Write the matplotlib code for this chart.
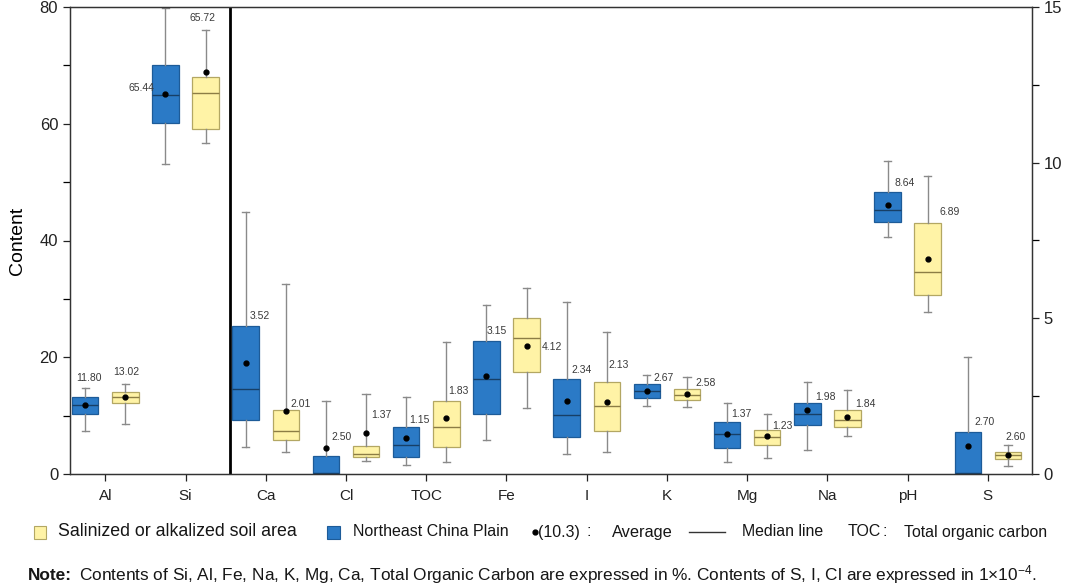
import matplotlib
matplotlib.use("Agg")
import matplotlib.pyplot as plt
from matplotlib.patches import Rectangle
from matplotlib.lines import Line2D
from matplotlib.ticker import MultipleLocator

plt.rcParams['font.family'] = ['Liberation Sans', 'DejaVu Sans']
plt.rcParams['mathtext.fontset'] = 'custom'
plt.rcParams['mathtext.rm'] = 'Liberation Sans'
plt.rcParams['mathtext.it'] = 'Liberation Sans:italic'
plt.rcParams['mathtext.bf'] = 'Liberation Sans:bold'

# ---------------- data ----------------
categories = ["Al", "Si", "Ca", "Cl", "TOC", "Fe", "I", "K", "Mg", "Na", "pH", "S"]
left_axis_cats = ["Al", "Si"]   # plotted against the left (0-80) axis

# Northeast China Plain (blue): whislo, q1, median, q3, whishi, mean
ne_whislo = [7.3, 53.1, 0.87, 0.00, 0.29, 1.09, 0.64, 2.19, 0.39, 0.77, 7.60, 0.00]
ne_q1     = [10.2, 60.1, 1.72, 0.00, 0.56, 1.94, 1.19, 2.43, 0.84, 1.57, 8.08, 0.00]
ne_med    = [11.9, 65.0, 2.73, 0.02, 0.93, 3.04, 1.88, 2.67, 1.27, 1.92, 8.48, 0.02]
ne_q3     = [13.2, 70.1, 4.74, 0.58, 1.51, 4.27, 3.04, 2.88, 1.67, 2.27, 9.07, 1.34]
ne_whishi = [14.7, 79.9, 8.41, 2.35, 2.48, 5.44, 5.54, 3.18, 2.27, 2.97, 10.04, 3.76]
ne_mean   = [11.9, 65.1, 3.55, 0.84, 1.16, 3.16, 2.35, 2.66, 1.29, 2.04, 8.63, 0.91]
ne_labels = ["11.80", "65.44", "3.52", "2.50", "1.15", "3.15", "2.34", "2.67",
             "1.37", "1.98", "8.64", "2.70"]

# Salinized or alkalized soil area (yellow)
sa_whislo = [8.5, 56.7, 0.71, 0.43, 0.37, 2.12, 0.71, 2.16, 0.50, 1.22, 5.19, 0.27]
sa_q1     = [12.1, 59.1, 1.08, 0.53, 0.87, 3.27, 1.39, 2.38, 0.92, 1.50, 5.76, 0.47]
sa_med    = [13.2, 65.3, 1.38, 0.65, 1.50, 4.38, 2.17, 2.53, 1.20, 1.75, 6.48, 0.60]
sa_q3     = [14.0, 68.0, 2.04, 0.91, 2.35, 5.02, 2.94, 2.73, 1.41, 2.06, 8.07, 0.71]
sa_whishi = [15.5, 76.1, 6.11, 2.57, 4.23, 5.98, 4.55, 3.10, 1.94, 2.70, 9.58, 0.94]
sa_mean   = [13.2, 68.9, 2.03, 1.32, 1.79, 4.10, 2.30, 2.57, 1.22, 1.82, 6.91, 0.62]
sa_labels = ["13.02", "65.72", "2.01", "1.37", "1.83", "4.12", "2.13", "2.58",
             "1.23", "1.84", "6.89", "2.60"]

# label placement (layout): x offset from the category tick, y in the axis units
ne_lab_dx = [-0.21, -0.55, -0.07, -0.06, -0.08, -0.12, -0.07, -0.04, -0.07, -0.02, -0.04, -0.04]
ne_lab_y  = [16.4, 66.2, 5.06, 1.20, 1.75, 4.59, 3.34, 3.07, 1.94, 2.47, 9.34, 1.66]
sa_lab_dx = [0.26, 0.21, 0.43, 0.44, 0.40, 0.57, 0.40, 0.48, 0.44, 0.47, 0.52, 0.35]
sa_lab_y  = [17.4, 78.1, 2.24, 1.89, 2.65, 4.08, 3.51, 2.92, 1.55, 2.25, 8.40, 1.19]

# ---------------- style ----------------
BLUE, BLUE_EDGE, BLUE_MED = "#2b7ac6", "#1d5b98", "#173f66"
YEL, YEL_EDGE, YEL_MED = "#fff3a6", "#b3a763", "#8c7d45"
WHISK = "#8a8a8a"
TXT = "#161616"

fig = plt.figure(figsize=(10.65, 5.87), dpi=100)
ax = fig.add_axes([70 / 1065, 113 / 587, 962 / 1065, 467 / 587])
ax2 = ax.twinx()

off = 0.25
bw = 0.33


def draw(axis, stats, face, edge, medc, pos):
    axis.bxp([stats], positions=[pos], widths=bw, showmeans=True, showfliers=False,
             patch_artist=True, capwidths=[0.09],
             boxprops=dict(facecolor=face, edgecolor=edge, linewidth=0.9),
             medianprops=dict(color=medc, linewidth=1.0),
             whiskerprops=dict(color=WHISK, linewidth=1.0),
             capprops=dict(color=WHISK, linewidth=1.0),
             meanprops=dict(marker='o', markerfacecolor='black', markeredgecolor='black',
                            markersize=3.5))


for i, cat in enumerate(categories):
    axis = ax if cat in left_axis_cats else ax2
    ne = dict(whislo=ne_whislo[i], q1=ne_q1[i], med=ne_med[i], q3=ne_q3[i],
              whishi=ne_whishi[i], mean=ne_mean[i], fliers=[])
    sa = dict(whislo=sa_whislo[i], q1=sa_q1[i], med=sa_med[i], q3=sa_q3[i],
              whishi=sa_whishi[i], mean=sa_mean[i], fliers=[])
    draw(axis, ne, BLUE, BLUE_EDGE, BLUE_MED, i - off)
    draw(axis, sa, YEL, YEL_EDGE, YEL_MED, i + off)
    axis.text(i + ne_lab_dx[i], ne_lab_y[i], ne_labels[i], ha='center', va='center',
              fontsize=7.5, color='#3a3a3a')
    axis.text(i + sa_lab_dx[i], sa_lab_y[i], sa_labels[i], ha='center', va='center',
              fontsize=7.5, color='#3a3a3a')

ax.set_xlim(-0.44, 11.55)
ax2.set_xlim(-0.44, 11.55)
ax.set_ylim(0, 80)
ax2.set_ylim(0, 15)
ax.set_xticks(range(len(categories)))
ax.set_xticklabels(categories, fontsize=11)
ax.axvline(1.55, color='black', linewidth=2.0)

ax.yaxis.set_major_locator(MultipleLocator(20))
ax.yaxis.set_minor_locator(MultipleLocator(10))
ax2.yaxis.set_major_locator(MultipleLocator(5))
ax2.yaxis.set_minor_locator(MultipleLocator(2.5))
for a in (ax, ax2):
    a.tick_params(axis='both', which='major', direction='out', length=5, width=0.9,
                  labelsize=12, colors='#222222')
    a.tick_params(axis='y', which='minor', direction='out', length=5, width=0.9)
    for s in a.spines.values():
        s.set_color('#333333')
        s.set_linewidth(0.9)
ax.tick_params(axis='x', labelsize=11, pad=6)
ax.set_ylabel("Content", fontsize=14, labelpad=10)

# ---------------- legend row ----------------
W, H = 1065, 587
ly = 1 - 532 / H
fig.patches.append(Rectangle((34 / W, ly - 6.5 / H), 12 / W, 13 / H,
                             transform=fig.transFigure, facecolor=YEL, edgecolor=YEL_EDGE,
                             linewidth=0.8))
fig.text(58 / W, ly, "Salinized or alkalized soil area", fontsize=12.8, va='center', color=TXT)
fig.patches.append(Rectangle((327 / W, ly - 6.5 / H), 13 / W, 13 / H,
                             transform=fig.transFigure, facecolor=BLUE, edgecolor=BLUE_EDGE,
                             linewidth=0.8))
fig.text(353 / W, ly, "Northeast China Plain", fontsize=11.5, va='center', color=TXT)
fig.lines.append(Line2D([535 / W], [ly], marker='o', markersize=3.5, color='black',
                        transform=fig.transFigure))
fig.text(538 / W, ly, "(10.3)", fontsize=11.5, va='center', color=TXT)
fig.text(586 / W, ly, ":", fontsize=11.5, va='center', color=TXT)
fig.text(612 / W, ly, "Average", fontsize=11.8, va='center', color=TXT)
fig.lines.append(Line2D([689 / W, 725 / W], [ly, ly], color='#333333', linewidth=1.0,
                        transform=fig.transFigure))
fig.text(742 / W, ly, "Median line", fontsize=11.4, va='center', color=TXT)
fig.text(848 / W, ly, "TOC", fontsize=11.4, va='center', color=TXT)
fig.text(882 / W, ly, ":", fontsize=11.4, va='center', color=TXT)
fig.text(904 / W, ly, "Total organic carbon", fontsize=11.4, va='center', color=TXT)

ny = 1 - 575 / H
fig.text(28 / W, ny, "Note:", fontsize=12.4, fontweight='bold', va='center', color=TXT)
fig.text(79 / W, ny,
         "Contents of Si, Al, Fe, Na, K, Mg, Ca, Total Organic Carbon are expressed in %. "
         "Contents of S, I, Cl are expressed in 1×10$^{-4}$.",
         fontsize=12.4, va='center', color=TXT)

fig.savefig("out.png", dpi=100)
